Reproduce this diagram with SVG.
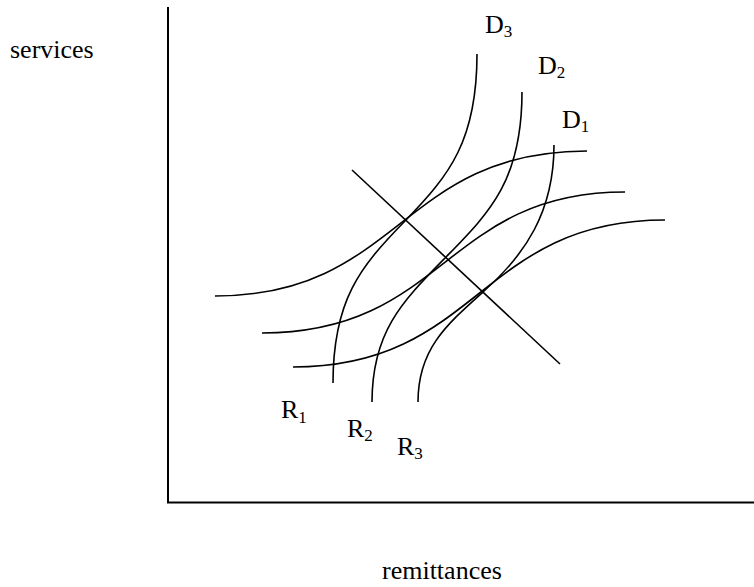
<svg xmlns="http://www.w3.org/2000/svg" width="754" height="587" viewBox="0 0 754 587">
<style>
.ln{fill:none;stroke:#000;stroke-width:1.6}
.ax{fill:none;stroke:#000;stroke-width:2}
.t{font-family:"Liberation Serif","Times New Roman",serif;font-size:26px;fill:#000}
.s{font-size:17px}
</style>
<rect width="754" height="587" fill="#fff"/>
<g id="axes">
<line class="ax" x1="168" y1="7" x2="168" y2="503"/>
<line class="ax" x1="167" y1="502.5" x2="754" y2="502.5"/>
</g>
<g id="curves">
<path id="R1" class="ln" d="M215,296 C400,296 400,151 587,151"/>
<path id="R2" class="ln" d="M262,333 C445,333 445,192 625,192"/>
<path id="R3" class="ln" d="M293,367 C479,367 479,220 665,220"/>
<path id="D3" class="ln" d="M477,54 C477,140 450,175 405,221 C360,267 333,300 333,383"/>
<path id="D2" class="ln" d="M522,92 C522,180 490,212 447,256 C404,300 372,330 372,402"/>
<path id="D1" class="ln" d="M554,145 C554,212 525,255 483,292 C445,326 418,350 418,402"/>
<line id="line" class="ln" x1="352" y1="170" x2="560" y2="364"/>
</g>
<g id="labels">
<text class="t" x="10" y="58">services</text>
<text class="t" x="382" y="579">remittances</text>
<text class="t" x="485" y="33">D<tspan class="s" dy="4">3</tspan></text>
<text class="t" x="538" y="74">D<tspan class="s" dy="4">2</tspan></text>
<text class="t" x="562" y="128">D<tspan class="s" dy="4">1</tspan></text>
<text class="t" x="281" y="418">R<tspan class="s" dy="5">1</tspan></text>
<text class="t" x="347" y="437">R<tspan class="s" dy="4">2</tspan></text>
<text class="t" x="397" y="455">R<tspan class="s" dy="4">3</tspan></text>
</g>
</svg>
